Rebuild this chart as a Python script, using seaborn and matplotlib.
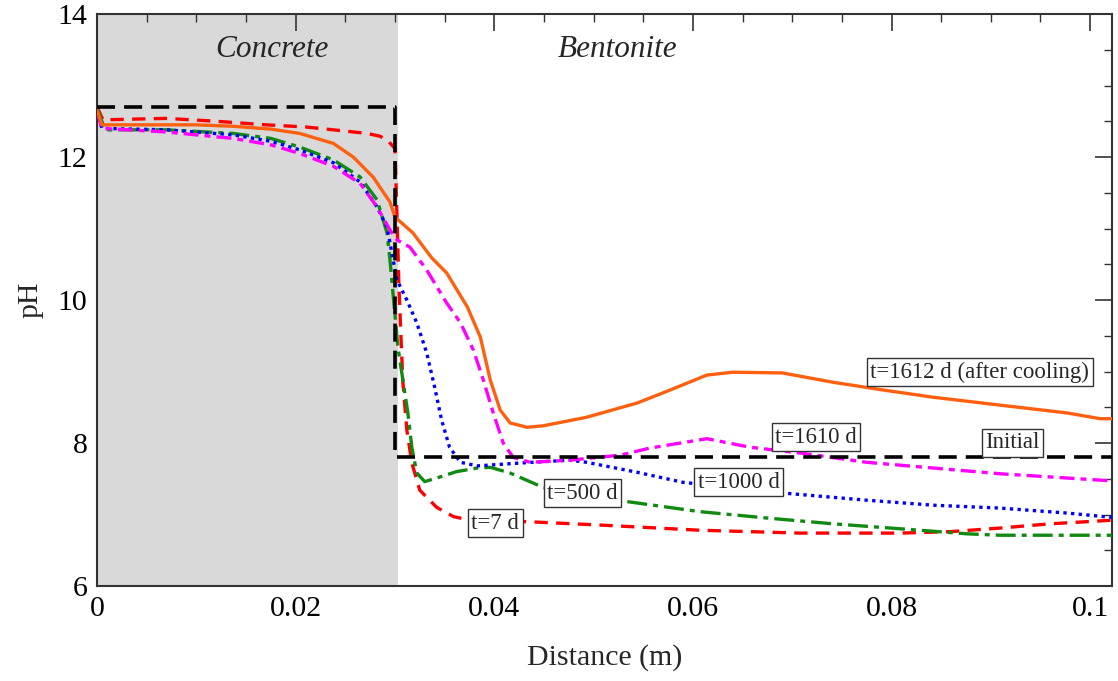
import numpy as np
import pandas as pd
import matplotlib
matplotlib.use("Agg")
import matplotlib.pyplot as plt
import seaborn as sns

# ---------------- data ----------------
x_init = [0.0, 0.0300, 0.0300, 0.1022]
y_init = [12.7, 12.7, 7.8, 7.8]

x_t7 = [0.0, 0.0006, 0.007, 0.012, 0.017, 0.0210, 0.0238, 0.0272, 0.0285, 0.0292, 0.0300, 0.0302, 0.0304,
        0.0306, 0.0308, 0.0312, 0.0317, 0.0325, 0.0342, 0.0359, 0.0376, 0.0433, 0.051,
        0.0607, 0.0708, 0.0809, 0.0859, 0.0909, 0.096, 0.1022]
y_t7 = [12.7, 12.52, 12.54, 12.50, 12.45, 12.42, 12.38, 12.33, 12.29, 12.24, 12.12, 11.2, 10.2,
        9.5, 8.85, 8.18, 7.72, 7.34, 7.10, 6.97, 6.92, 6.90, 6.85,
        6.78, 6.74, 6.74, 6.76, 6.81, 6.87, 6.92]

x_t500 = [0.0, 0.0008, 0.007, 0.0137, 0.0175, 0.0204, 0.0238, 0.0265, 0.0282, 0.0292, 0.0295,
          0.0298, 0.0303, 0.0308, 0.0313, 0.0317, 0.0322, 0.0330, 0.0342, 0.0362, 0.0383,
          0.0396, 0.0416, 0.0449, 0.0534, 0.0607, 0.0675, 0.0741, 0.0809, 0.0876, 0.0909,
          0.1022]
y_t500 = [12.69, 12.38, 12.38, 12.33, 12.26, 12.14, 11.96, 11.72, 11.40, 10.94, 10.56,
          10.1, 9.34, 8.88, 8.42, 7.94, 7.58, 7.46, 7.51, 7.60, 7.65,
          7.66, 7.58, 7.38, 7.18, 7.04, 6.95, 6.87, 6.80, 6.73, 6.71,
          6.71]

x_t1000 = [0.0, 0.0005, 0.007, 0.0137, 0.0175, 0.0204, 0.0238, 0.0265, 0.0282, 0.0292, 0.0302,
           0.0312, 0.0322, 0.0332, 0.0340, 0.0347, 0.0355, 0.0366, 0.0383, 0.0426, 0.0476,
           0.0493, 0.0544, 0.0590, 0.0691, 0.0775, 0.0842, 0.0909, 0.0977, 0.1022]
y_t1000 = [12.66, 12.40, 12.38, 12.31, 12.22, 12.10, 11.92, 11.65, 11.30, 11.02, 10.28,
           10.00, 9.68, 9.26, 8.78, 8.32, 7.94, 7.73, 7.68, 7.72, 7.76,
           7.73, 7.59, 7.45, 7.30, 7.20, 7.13, 7.09, 7.02, 6.96]

x_t1610 = [0.0, 0.0005, 0.007, 0.0137, 0.0175, 0.0204, 0.0238, 0.0265, 0.0282, 0.0295, 0.0302,
           0.0315, 0.0332, 0.0352, 0.0366, 0.0379, 0.0389, 0.0399, 0.0409, 0.0419, 0.0436,
           0.0476, 0.0527, 0.0557, 0.0614, 0.0658, 0.0708, 0.0775, 0.0842, 0.0909, 0.0977,
           0.1022]
y_t1610 = [12.63, 12.40, 12.35, 12.26, 12.17, 12.05, 11.87, 11.63, 11.30, 10.98, 10.84,
           10.74, 10.42, 9.96, 9.68, 9.30, 8.88, 8.42, 8.00, 7.80, 7.73,
           7.76, 7.83, 7.93, 8.06, 7.94, 7.86, 7.73, 7.65, 7.57, 7.51,
           7.47]

x_t1612 = [0.0, 0.0005, 0.005, 0.0100, 0.0137, 0.0175, 0.0204, 0.0238, 0.0258, 0.0278, 0.0295, 0.0300,
           0.0318, 0.0337, 0.0352, 0.0373, 0.0386, 0.0396, 0.0406, 0.0416, 0.0433, 0.0449,
           0.0493, 0.0544, 0.0577, 0.0614, 0.0640, 0.0690, 0.0741, 0.0792, 0.0842, 0.0909,
           0.0977, 0.1010, 0.1022]
y_t1612 = [12.66, 12.45, 12.45, 12.45, 12.43, 12.39, 12.33, 12.19, 12.00, 11.72, 11.37, 11.16,
           10.94, 10.59, 10.38, 9.90, 9.48, 8.88, 8.46, 8.28, 8.22, 8.24,
           8.36, 8.56, 8.74, 8.95, 8.99, 8.98, 8.85, 8.74, 8.64, 8.53,
           8.42, 8.34, 8.34]

x_ticks = [0, 0.02, 0.04, 0.06, 0.08, 0.1]
x_ticklabels = ["0", "0.02", "0.04", "0.06", "0.08", "0.1"]
y_ticks = [6, 8, 10, 12, 14]
y_ticklabels = ["6", "8", "10", "12", "14"]

labels = ["t=7 d", "t=500 d", "t=1000 d", "t=1610 d", "t=1612 d (after cooling)", "Initial"]
label_x = [0.0401, 0.0489, 0.0646, 0.0724, 0.0889, 0.0922]
label_y = [6.88, 7.30, 7.45, 8.08, 8.99, 8.00]

# ---------------- plot ----------------
sns.set_theme(style="white")
plt.rcParams['font.family'] = ['Liberation Serif', 'DejaVu Serif']

fig = plt.figure(figsize=(11.18, 6.81), dpi=100)
ax = fig.add_axes([97/1118, 1-586/681, (1112-97)/1118, (586-14)/681])

ax.axvspan(0, 0.0303, color="#d9d9d9", zorder=0, lw=0)

series = [
    (x_t7, y_t7, "#ff0000", (0, (4, 2.5))),
    (x_t500, y_t500, "#108a10", (0, (6, 1.8, 1.5, 1.8))),
    (x_t1000, y_t1000, "#0000ff", (0, (1, 1.3))),
    (x_t1610, y_t1610, "#ff00ff", (0, (4.5, 1.8, 1.8, 1.8))),
    (x_t1612, y_t1612, "#ff6010", "-"),
]
for xs, ys, col, ls in series:
    df = pd.DataFrame({"x": xs, "y": ys})
    sns.lineplot(data=df, x="x", y="y", ax=ax, color=col, lw=2.4,
                 linestyle=ls, sort=False, estimator=None, zorder=3)

df_init = pd.DataFrame({"x": x_init, "y": y_init})
sns.lineplot(data=df_init, x="x", y="y", ax=ax, color="black", lw=2.6,
             linestyle=(0, (5, 2.5)), sort=False, estimator=None, zorder=4)

for t, lx, ly in zip(labels, label_x, label_y):
    ax.text(lx, ly, t, ha="center", va="center", fontsize=16.5, zorder=6,
            bbox=dict(boxstyle="square,pad=0.15", fc="white", ec="#333333", lw=1.0))

ax.text(0.0176, 13.5, "Concrete", ha="center", va="center", fontsize=22.5, style="italic")
ax.text(0.0524, 13.5, "Bentonite", ha="center", va="center", fontsize=22.5, style="italic")

ax.set_xlim(0, 0.1022)
ax.set_ylim(6, 14)
ax.set_xticks(x_ticks)
ax.set_xticklabels(x_ticklabels)
ax.set_yticks(y_ticks)
ax.set_yticklabels(y_ticklabels)
ax.set_xticks(np.arange(0, 0.1022, 0.005), minor=True)
ax.set_yticks(np.arange(6, 14.01, 0.5), minor=True)
ax.tick_params(which="both", direction="in", top=True, right=True, colors="#333333",
               labelcolor="black")
ax.tick_params(which="major", length=12, width=1.2, labelsize=21.5, pad=7)
ax.tick_params(which="minor", length=6, width=1.0)

for s in ax.spines.values():
    s.set_color("#333333")
    s.set_linewidth(1.5)

ax.set_xlabel("Distance (m)", fontsize=21.5, labelpad=16)
ax.set_ylabel("pH", fontsize=21.5, labelpad=10)

fig.savefig("out.png", dpi=100)
